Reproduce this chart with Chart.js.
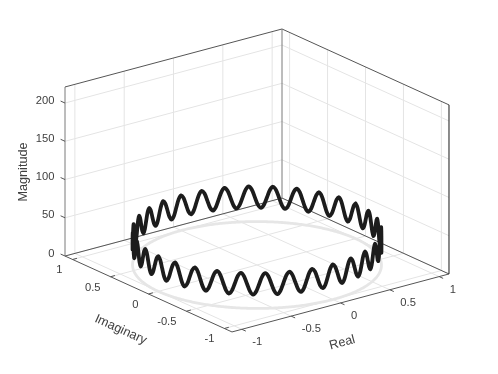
<!DOCTYPE html>
<html>
<head>
<meta charset="utf-8">
<style>html,body{margin:0;padding:0;background:#fff}canvas{display:block}</style>
<script src="https://cdn.jsdelivr.net/npm/chart.js@4"></script>
</head>
<body>
<canvas id="c" width="498" height="374"></canvas>
<script>
const realValues = [1,.9997,.9988,.9973,.9952,.9925,.9892,.9853,.9808,.9757,.97,.9638,.9569,.9495,.9415,.933,.9239,.9142,.904,.8932,.8819,.8701,.8577,.8449,.8315,.8176,.8032,.7883,.773,.7572,.741,.7242,.7071,.6895,.6716,.6532,.6344,.6152,.5957,.5758,.5556,.535,.5141,.4929,.4714,.4496,.4276,.4052,.3827,.3599,.3369,.3137,.2903,.2667,.243,.2191,.1951,.171,.1467,.1224,.098,.0735,.0491,.0245,0,
-.0245,-.0491,-.0735,-.098,-.1224,-.1467,-.171,-.1951,-.2191,-.243,-.2667,-.2903,-.3137,-.3369,-.3599,-.3827,-.4052,-.4276,-.4496,-.4714,-.4929,-.5141,-.535,-.5556,-.5758,-.5957,-.6152,-.6344,-.6532,-.6716,-.6895,-.7071,-.7242,-.741,-.7572,-.773,-.7883,-.8032,-.8176,-.8315,-.8449,-.8577,-.8701,-.8819,-.8932,-.904,-.9142,-.9239,-.933,-.9415,-.9495,-.9569,-.9638,-.97,-.9757,-.9808,-.9853,-.9892,-.9925,-.9952,-.9973,-.9988,-.9997,-1,
-.9997,-.9988,-.9973,-.9952,-.9925,-.9892,-.9853,-.9808,-.9757,-.97,-.9638,-.9569,-.9495,-.9415,-.933,-.9239,-.9142,-.904,-.8932,-.8819,-.8701,-.8577,-.8449,-.8315,-.8176,-.8032,-.7883,-.773,-.7572,-.741,-.7242,-.7071,-.6895,-.6716,-.6532,-.6344,-.6152,-.5957,-.5758,-.5556,-.535,-.5141,-.4929,-.4714,-.4496,-.4276,-.4052,-.3827,-.3599,-.3369,-.3137,-.2903,-.2667,-.243,-.2191,-.1951,-.171,-.1467,-.1224,-.098,-.0735,-.0491,-.0245,0,
.0245,.0491,.0735,.098,.1224,.1467,.171,.1951,.2191,.243,.2667,.2903,.3137,.3369,.3599,.3827,.4052,.4276,.4496,.4714,.4929,.5141,.535,.5556,.5758,.5957,.6152,.6344,.6532,.6716,.6895,.7071,.7242,.741,.7572,.773,.7883,.8032,.8176,.8315,.8449,.8577,.8701,.8819,.8932,.904,.9142,.9239,.933,.9415,.9495,.9569,.9638,.97,.9757,.9808,.9853,.9892,.9925,.9952,.9973,.9988,.9997,1];
const imagValues = [0,.0245,.0491,.0735,.098,.1224,.1467,.171,.1951,.2191,.243,.2667,.2903,.3137,.3369,.3599,.3827,.4052,.4276,.4496,.4714,.4929,.5141,.535,.5556,.5758,.5957,.6152,.6344,.6532,.6716,.6895,.7071,.7242,.741,.7572,.773,.7883,.8032,.8176,.8315,.8449,.8577,.8701,.8819,.8932,.904,.9142,.9239,.933,.9415,.9495,.9569,.9638,.97,.9757,.9808,.9853,.9892,.9925,.9952,.9973,.9988,.9997,1,
.9997,.9988,.9973,.9952,.9925,.9892,.9853,.9808,.9757,.97,.9638,.9569,.9495,.9415,.933,.9239,.9142,.904,.8932,.8819,.8701,.8577,.8449,.8315,.8176,.8032,.7883,.773,.7572,.741,.7242,.7071,.6895,.6716,.6532,.6344,.6152,.5957,.5758,.5556,.535,.5141,.4929,.4714,.4496,.4276,.4052,.3827,.3599,.3369,.3137,.2903,.2667,.243,.2191,.1951,.171,.1467,.1224,.098,.0735,.0491,.0245,0,
-.0245,-.0491,-.0735,-.098,-.1224,-.1467,-.171,-.1951,-.2191,-.243,-.2667,-.2903,-.3137,-.3369,-.3599,-.3827,-.4052,-.4276,-.4496,-.4714,-.4929,-.5141,-.535,-.5556,-.5758,-.5957,-.6152,-.6344,-.6532,-.6716,-.6895,-.7071,-.7242,-.741,-.7572,-.773,-.7883,-.8032,-.8176,-.8315,-.8449,-.8577,-.8701,-.8819,-.8932,-.904,-.9142,-.9239,-.933,-.9415,-.9495,-.9569,-.9638,-.97,-.9757,-.9808,-.9853,-.9892,-.9925,-.9952,-.9973,-.9988,-.9997,-1,
-.9997,-.9988,-.9973,-.9952,-.9925,-.9892,-.9853,-.9808,-.9757,-.97,-.9638,-.9569,-.9495,-.9415,-.933,-.9239,-.9142,-.904,-.8932,-.8819,-.8701,-.8577,-.8449,-.8315,-.8176,-.8032,-.7883,-.773,-.7572,-.741,-.7242,-.7071,-.6895,-.6716,-.6532,-.6344,-.6152,-.5957,-.5758,-.5556,-.535,-.5141,-.4929,-.4714,-.4496,-.4276,-.4052,-.3827,-.3599,-.3369,-.3137,-.2903,-.2667,-.243,-.2191,-.1951,-.171,-.1467,-.1224,-.098,-.0735,-.0491,-.0245,0];
const magnitudeValues = [
46,41.9,32,22.1,18,22.1,32,41.9,46,41.9,32,22.1,18,22.1,32,41.9,46,41.9,32,22.1,18,22.1,32,41.9,46,41.9,32,22.1,18,22.1,32,41.9,
46,41.9,32,22.1,18,22.1,32,41.9,46,41.9,32,22.1,18,22.1,32,41.9,46,41.9,32,22.1,18,22.1,32,41.9,46,41.9,32,22.1,18,22.1,32,41.9,
46,41.9,32,22.1,18,22.1,32,41.9,46,41.9,32,22.1,18,22.1,32,41.9,46,41.9,32,22.1,18,22.1,32,41.9,46,41.9,32,22.1,18,22.1,32,41.9,
46,41.9,32,22.1,18,22.1,32,41.9,46,41.9,32,22.1,18,22.1,32,41.9,46,41.9,32,22.1,18,22.1,32,41.9,46,41.9,32,22.1,18,22.1,32,41.9,
46,41.9,32,22.1,18,22.1,32,41.9,46,41.9,32,22.1,18,22.1,32,41.9,46,41.9,32,22.1,18,22.1,32,41.9,46,41.9,32,22.1,18,22.1,32,41.9,
46,41.9,32,22.1,18,22.1,32,41.9,46,41.9,32,22.1,18,22.1,32,41.9,46,41.9,32,22.1,18,22.1,32,41.9,46,41.9,32,22.1,18,22.1,32,41.9,
46,41.9,32,22.1,18,22.1,32,41.9,46,41.9,32,22.1,18,22.1,32,41.9,46,41.9,32,22.1,18,22.1,32,41.9,46,41.9,32,22.1,18,22.1,32,41.9,
46,41.9,32,22.1,18,22.1,32,41.9,46,41.9,32,22.1,18,22.1,32,41.9,46,41.9,32,22.1,18,22.1,32,41.9,46,41.9,32,22.1,18,22.1,32,41.9,46];
const realTicks = [-1,-0.5,0,0.5,1];
const imagTicks = [-1,-0.5,0,0.5,1];
const magnitudeTicks = [0,50,100,150,200];
const realLimits = [-1.1,1.1];
const imagLimits = [-1.1,1.1];
const magnitudeLimits = [0,221];

// Orthographic view of the 3-D axes box
const view = {ox:257, oy:265, rx:98.64, ry:-26.36, ix:-75.9, iy:-34.5, mz:-0.765};
const P = (r,i,m) => ({x:view.ox+view.rx*r+view.ix*i, y:view.oy+view.ry*r+view.iy*i+view.mz*m});

const GRID = '#e4e4e4', AXIS = '#555555', TEXT = '#404040';
const seg = (pts,color,width=1) => ({type:'line',data:pts,borderColor:color,borderWidth:width,pointRadius:0,tension:0,fill:false,parsing:false});
const sets = [];
const [r0,r1] = realLimits, [i0,i1] = imagLimits, [m0,m1] = magnitudeLimits;

realTicks.forEach(r => {
  sets.push(seg([P(r,i0,m0),P(r,i1,m0),P(r,i1,m1)],GRID));
});
imagTicks.forEach(i => {
  sets.push(seg([P(r0,i,m0),P(r1,i,m0),P(r1,i,m1)],GRID));
});
magnitudeTicks.forEach(m => {
  sets.push(seg([P(r0,i1,m),P(r1,i1,m),P(r1,i0,m)],GRID));
});
// Box
sets.push(seg([P(r0,i1,m1),P(r1,i1,m1),P(r1,i0,m1)],AXIS));
sets.push(seg([P(r0,i1,m0),P(r1,i1,m0),P(r1,i0,m0)],AXIS));
sets.push(seg([P(r0,i1,m0),P(r0,i0,m0),P(r1,i0,m0)],AXIS));
sets.push(seg([P(r0,i1,m0),P(r0,i1,m1)],'#7a7a7a'));
sets.push(seg([P(r1,i1,m0),P(r1,i1,m1)],'#7a7a7a'));
sets.push(seg([P(r1,i0,m0),P(r1,i0,m1)],'#1a1a1a'));
// Tick marks
const tick = (p,dx,dy) => seg([p,{x:p.x+dx,y:p.y+dy}],AXIS);
magnitudeTicks.forEach(m => sets.push(tick(P(r0,i1,m),-4.4,-2)));
imagTicks.forEach(i => sets.push(tick(P(r0,i,m0),4.4,-1.2)));
realTicks.forEach(r => sets.push(tick(P(r,i0,m0),4,1.8)));
// Floor ring and signal
sets.push({type:'line',label:'Projection',data:realValues.map((r,k)=>P(r,imagValues[k],0)),borderColor:'#e6e6e6',borderWidth:2.8,pointRadius:0,tension:0.3,fill:false,parsing:false});
sets.push({type:'line',label:'Signal',data:realValues.map((r,k)=>P(r,imagValues[k],magnitudeValues[k])),borderColor:'#1c1c1c',borderWidth:3.8,pointRadius:0,tension:0.3,borderJoinStyle:'round',borderCapStyle:'round',fill:false,parsing:false});
// Chart.js paints the first dataset last, so list them top-most first
sets.reverse();

const textPlugin = {
  id:'labels3d',
  afterDatasetsDraw(chart){
    const c = chart.ctx, sx = chart.scales.x, sy = chart.scales.y;
    const put = (s,p,dx,dy,align,size=11.2,rot=0) => {
      c.save();
      c.translate(sx.getPixelForValue(p.x)+dx, sy.getPixelForValue(p.y)+dy);
      c.rotate(rot*Math.PI/180);
      c.font = size+'px "Liberation Sans", Arial, sans-serif';
      c.fillStyle = TEXT; c.textAlign = align; c.textBaseline = 'middle';
      c.fillText(s,0,0);
      c.restore();
    };
    magnitudeTicks.forEach(m => put(String(m),P(r0,i1,m),-10.5,-2.4,'right'));
    imagTicks.forEach(i => put(String(i),P(r0,i,m0),-10,10.8,'right'));
    realTicks.forEach(r => put(String(r),P(r,i0,m0),10.5,12.9,'left'));
    put('Magnitude',{x:23,y:172},0,0,'center',12.7,-90);
    put('Imaginary',{x:120.7,y:329.7},0,0,'center',12.7,24.4);
    put('Real',{x:342.3,y:342.7},0,0,'center',12.7,-15);
  }
};

new Chart(document.getElementById('c'),{
  type:'scatter',
  data:{datasets:sets},
  options:{
    responsive:false,animation:false,
    layout:{padding:0},
    plugins:{legend:{display:false},tooltip:{enabled:false},title:{display:false}},
    scales:{
      x:{type:'linear',min:0,max:498,display:false},
      y:{type:'linear',min:0,max:374,reverse:true,display:false}
    }
  },
  plugins:[textPlugin]
});
</script>
</body>
</html>
